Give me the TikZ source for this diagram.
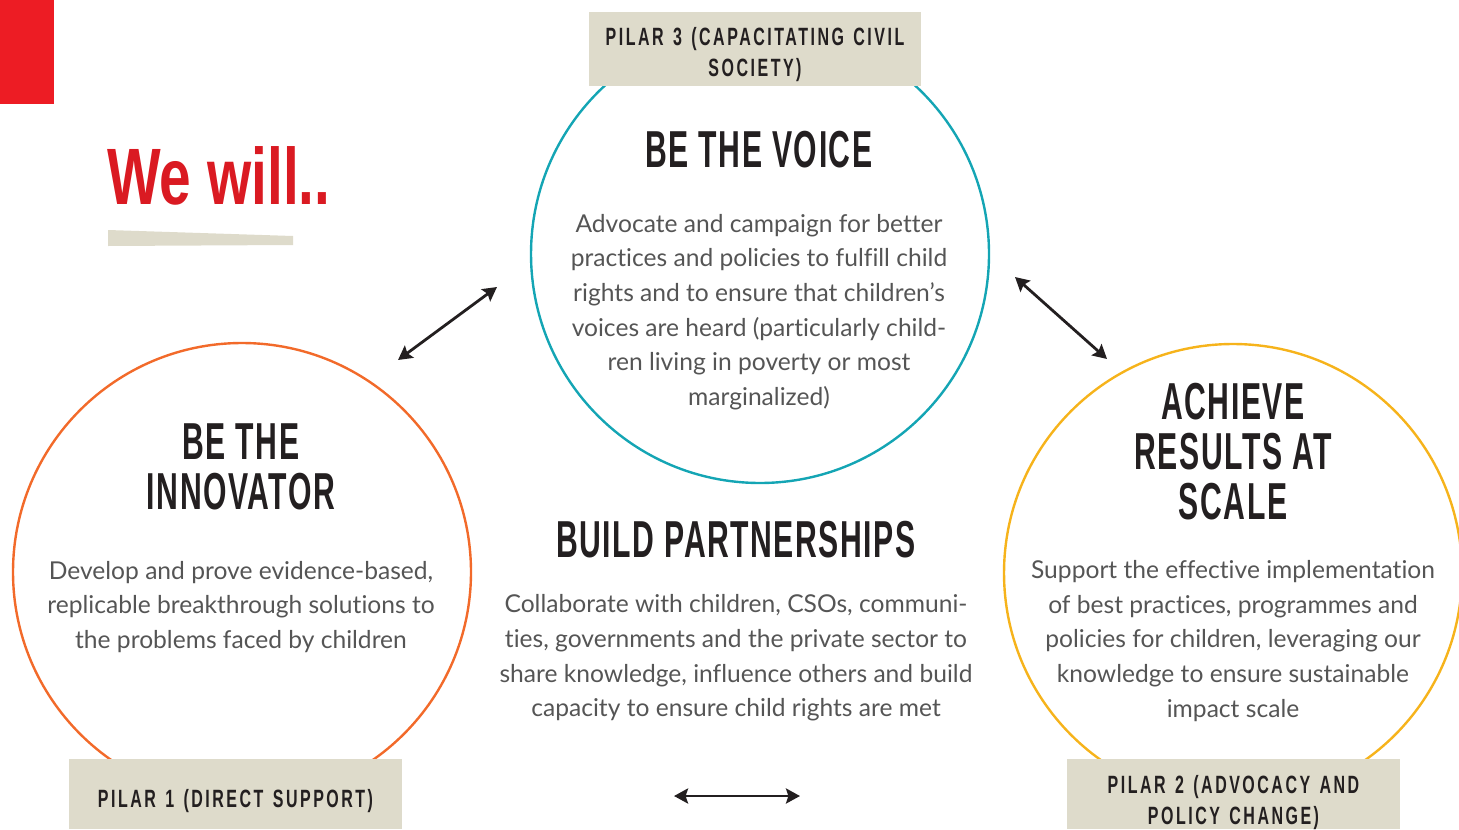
\documentclass[tikz,border=0pt]{standalone}
\usepackage{fontspec}
\usetikzlibrary{arrows.meta,positioning}
\setmainfont[Ligatures=CommonOff]{Lato}
\newfontfamily\headfont[FakeStretch=0.58,LetterSpace=3]{Liberation Sans Bold}
\newfontfamily\titlefont[FakeStretch=0.71]{Liberation Sans Bold}
\newfontfamily\pilarfont[FakeStretch=0.64,LetterSpace=10,WordSpace=1.35]{Liberation Sans Bold}

\definecolor{wwred}{HTML}{ED1C24}
\definecolor{wwtitle}{HTML}{DA1A22}
\definecolor{wwbeige}{HTML}{DEDBCB}
\definecolor{wwteal}{HTML}{14A5B4}
\definecolor{wworange}{HTML}{F26A2A}
\definecolor{wwyellow}{HTML}{F6B31B}
\definecolor{wwink}{HTML}{231F20}
\definecolor{wwgrey}{HTML}{555555}

\begin{document}
\begin{tikzpicture}[x=0.5pt,y=-0.5pt,
  ring/.style={circle,draw,line width=1.2pt,minimum size=229pt,inner sep=0pt},
  heading/.style={text=wwink,align=center,font=\headfont\fontsize{26}{25}\selectfont},
  body/.style={text=wwgrey,align=center,font=\fontsize{12.3}{17.3}\selectfont},
  pilar/.style={text=wwink,align=center,inner sep=0pt,
    font=\pilarfont\fontsize{12.5}{15.5}\selectfont},
  link/.style={{Stealth[length=7pt,width=7.5pt,inset=1.2pt]}-{Stealth[length=7pt,width=7.5pt,inset=1.2pt]},
    line width=1.4pt,draw=wwink}]
\useasboundingbox (0,0) rectangle (1459,829);
\clip (0,0) rectangle (1459,829);

% corner mark and title
\fill[wwred] (0,0) rectangle (54,104);
\node[text=wwtitle,anchor=base west,inner sep=0pt,
  font=\titlefont\fontsize{40}{40}\selectfont] (title) at (107,204) {We will..};
\fill[wwbeige] (108,230) -- (293,236) -- (293,245) -- (108,246) -- cycle;

% the three circles
\node[ring,draw=wwteal] (voice) at (760,254) {};
\node[ring,draw=wworange] (innov) at (242,572) {};
\node[ring,draw=wwyellow] (scale) at (1233,573) {};

% pilar labels
\fill[wwbeige] (589,12) rectangle (921,86);
\fill[wwbeige] (69,759) rectangle (402,829);
\fill[wwbeige] (1067,759) rectangle (1400,829);
\node[pilar] (pilar3) at (755,55) {PILAR 3 (CAPACITATING CIVIL\\SOCIETY)};
\node[pilar] (pilar1) at (235.5,801) {PILAR 1 (DIRECT SUPPORT)};
\node[pilar] (pilar2) at (1233.5,802.5) {PILAR 2 (ADVOCACY AND\\POLICY CHANGE)};

% be the voice
\node[heading] (voicehead) at (759,150) {BE THE VOICE};
\node[body] (voicetext) at (759,312) {Advocate and campaign for better\\
  practices and policies to fulfill child\\rights and to ensure that children’s\\
  voices are heard (particularly child-\\ren living in poverty or most\\marginalized)};

% be the innovator
\node[heading] (innovhead) at (241,467) {BE THE\\INNOVATOR};
\node[body] (innovtext) at (241,607) {Develop and prove evidence-based,\\
  replicable breakthrough solutions to\\the problems faced by children};

% build partnerships
\node[heading] (partnhead) at (736,540) {BUILD PARTNERSHIPS};
\node[body] (partntext) at (736,658) {Collaborate with children, CSOs, communi-\\
  ties, governments and the private sector to\\share knowledge, influence others and build\\
  capacity to ensure child rights are met};

% achieve results at scale
\node[heading] (scalehead) at (1233,452) {ACHIEVE\\RESULTS AT\\SCALE};
\node[body] (scaletext) at (1233,641) {Support the effective implementation\\
  of best practices, programmes and\\policies for children, leveraging our\\
  knowledge to ensure sustainable\\impact scale};

% two-way links
\coordinate (l1a) at (398,360);
\coordinate (l1b) at (497,287);
\coordinate (l2a) at (1015,277);
\coordinate (l2b) at (1107,359);
\coordinate (l3a) at (674,796);
\coordinate (l3b) at (800,796);
\draw[link] (l1a) -- (l1b);
\draw[link] (l2a) -- (l2b);
\draw[link] (l3a) -- (l3b);
\end{tikzpicture}
\end{document}
